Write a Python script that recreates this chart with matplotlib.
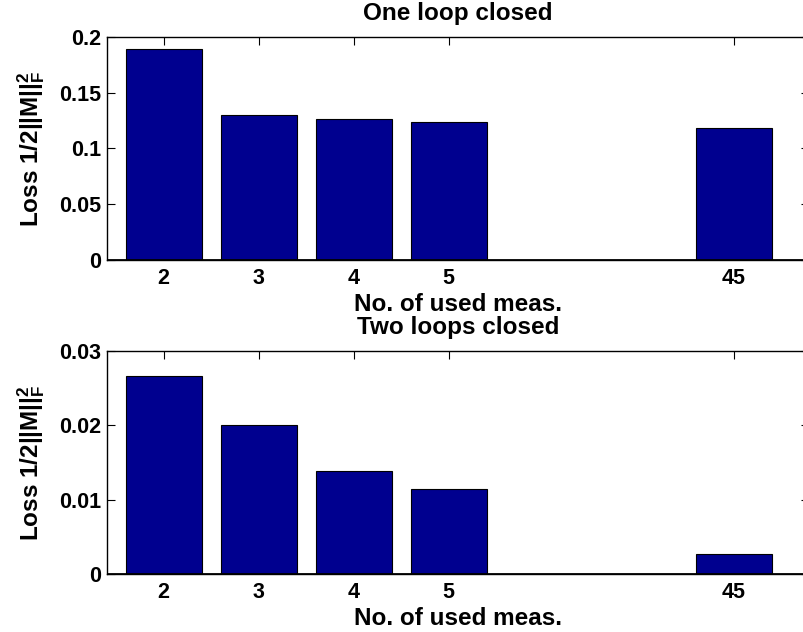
import numpy as np
import matplotlib.pyplot as plt

plt.rcParams['font.family'] = ['Liberation Sans', 'DejaVu Sans']
plt.rcParams['font.weight'] = 'bold'
plt.rcParams['mathtext.fontset'] = 'custom'
plt.rcParams['mathtext.rm'] = 'Liberation Sans:bold'
plt.rcParams['mathtext.it'] = 'Liberation Sans:bold'
plt.rcParams['mathtext.bf'] = 'Liberation Sans:bold'

# data
meas_labels = ['2', '3', '4', '5', '45']
positions = [1, 2, 3, 4, 7]
loss_one = [0.1887, 0.1296, 0.1260, 0.1233, 0.1182]
loss_two = [0.02656, 0.01997, 0.0138, 0.01146, 0.00264]

tick_fs = 15.5
lab_fs = 17.5
barcol = '#00008F'

fig = plt.figure(figsize=(8.04, 6.32), dpi=100)
W, H = 804.0, 632.0
left = 106.7 / W
width = (809 - 106.7) / W

ax1 = fig.add_axes([left, 1 - 260 / H, width, (260 - 36.7) / H])
ax2 = fig.add_axes([left, 1 - 574 / H, width, (574 - 350.7) / H])

def draw(ax, vals, ymax, yticks, yticklabels, title):
    ax.bar(positions, vals, width=0.8, color=barcol, edgecolor='black', linewidth=0.8, zorder=2)
    ax.axhline(0, color='black', linewidth=2, zorder=3)
    ax.set_xlim(0.4, 0.4 + (809 - 106.7) / 95.0)
    ax.set_ylim(0, ymax)
    ax.set_xticks(positions)
    ax.set_xticklabels(meas_labels, fontsize=tick_fs, fontweight='bold')
    ax.set_yticks(yticks)
    ax.set_yticklabels(yticklabels, fontsize=tick_fs, fontweight='bold')
    ax.tick_params(direction='in', length=6, width=0.8, top=True, right=True)
    ax.tick_params(axis='x', pad=6)
    ax.tick_params(axis='y', pad=4)
    for s in ax.spines.values():
        s.set_linewidth(1.0)
    ax.set_xlabel('No. of used meas.', fontsize=lab_fs, fontweight='bold', labelpad=2.5)
    ax.set_ylabel(r'Loss 1/2||M||$_F^2$', fontsize=lab_fs, fontweight='bold', labelpad=9)
    ax.set_title(title, fontsize=lab_fs, fontweight='bold', pad=12)

draw(ax1, loss_one, 0.2, [0, 0.05, 0.1, 0.15, 0.2], ['0', '0.05', '0.1', '0.15', '0.2'], 'One loop closed')
draw(ax2, loss_two, 0.03, [0, 0.01, 0.02, 0.03], ['0', '0.01', '0.02', '0.03'], 'Two loops closed')

fig.savefig('out.png', dpi=100)
